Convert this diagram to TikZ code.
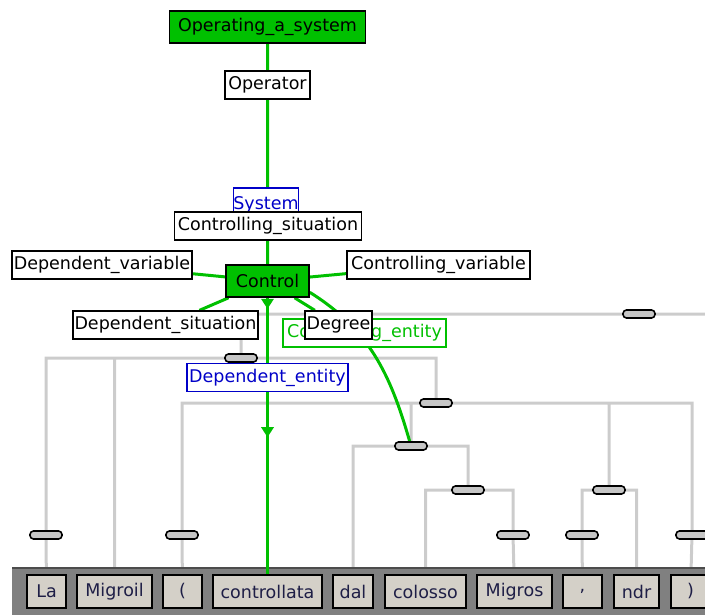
\documentclass[tikz,border=0pt]{standalone}
\usepackage{fontspec}
\setmainfont{DejaVu Sans}
\usetikzlibrary{arrows.meta,decorations.markings}
\pgfdeclarelayer{tree}
\pgfdeclarelayer{bar}
\pgfdeclarelayer{links}
\pgfsetlayers{tree,bar,links,main}
\definecolor{fegreen}{RGB}{0,192,0}
\definecolor{feblue}{RGB}{0,0,200}
\definecolor{treegray}{RGB}{204,204,204}
\definecolor{tokfill}{RGB}{212,208,200}
\definecolor{barfill}{RGB}{128,128,128}
\definecolor{toktext}{RGB}{30,30,70}

\begin{document}
\begin{tikzpicture}
[x=1pt, y=-1pt,
every node/.style={font=\fontsize{17.5}{20}\selectfont, inner sep=0pt},
framebox/.style={draw=black, line width=1.6pt, fill=fegreen, minimum height=32pt},
fe/.style={draw=black, line width=1.3pt, fill=white, minimum height=28pt},
core/.style={fe, draw=feblue, text=feblue},
noncore/.style={fe, draw=fegreen, text=fegreen},
phrase/.style={draw=black, line width=1.6pt, fill=gray!45, rounded corners=3.5pt, minimum width=32pt, minimum height=8pt},
token/.style={draw=black, line width=1.6pt, fill=tokfill, text=toktext, minimum height=33pt},
felink/.style={draw, color=fegreen, line width=3pt},
treelink/.style={draw=treegray, line width=3pt},
tipmark/.style={decoration={markings,
  mark=at position #1 with {\fill (0,6.5) -- (0,-6.5) -- (10,0) -- cycle;}}}
]
  \useasboundingbox (0,0) rectangle (705,615);

  % frames and frame elements
  \node[framebox, minimum width=196pt] (opsys)   at (267.5,27)  {Operating\_a\_system};
  \node[fe, minimum width=85pt]        (operator) at (267.5,85) {Operator};
  \node[core, minimum width=65pt, text height=18pt, text depth=2pt]
                                       (system)  at (266,202)   {System};
  \node[fe, minimum width=187pt]       (ctrlsit) at (268,226)   {Controlling\_situation};
  \node[fe, minimum width=180pt]       (depvar)  at (102,265)   {Dependent\_variable};
  \node[framebox, minimum width=83pt]  (control) at (267.5,281) {Control};
  \node[fe, minimum width=183pt]       (ctrlvar) at (438.5,265) {Controlling\_variable};
  \node[fe, minimum width=185pt]       (depsit)  at (165.5,325) {Dependent\_situation};
  \node[noncore, minimum width=163pt]  (ctrlent) at (364.5,333) {Controlling\_entity};
  \node[fe, minimum width=67pt]        (degree)  at (338.5,325) {Degree};
  \node[core, minimum width=161pt]     (depent)  at (267.5,377.5) {Dependent\_entity};

  % tokens
  \node[token, minimum width=39pt]  (tla)          at (46.5,591.5)  {La};
  \node[token, minimum width=75pt]  (tmigroil)     at (114.5,591.5) {Migroil};
  \node[token, minimum width=39pt]  (tlpar)        at (182.5,591.5) {(};
  \node[token, minimum width=109pt] (tcontrollata) at (267.5,591.5) {controllata};
  \node[token, minimum width=40pt]  (tdal)         at (353,591.5)   {dal};
  \node[token, minimum width=81pt]  (tcolosso)     at (425.5,591.5) {colosso};
  \node[token, minimum width=75pt]  (tmigros)      at (514.5,591.5) {Migros};
  \node[token, minimum width=39pt]  (tcomma)       at (582.5,591.5) {,};
  \node[token, minimum width=45pt]  (tndr)         at (636.5,591.5) {ndr};
  \node[token, minimum width=39pt]  (trpar)        at (690.5,591.5) {)};

  % phrase nodes
  \node[phrase] (p1)      at (639,314) {};
  \node[phrase] (p2)      at (241,358) {};
  \node[phrase] (p3)      at (436,403) {};
  \node[phrase] (p4)      at (411,446) {};
  \node[phrase] (p5)      at (609,490) {};
  \node[phrase] (p6)      at (468,490) {};
  \node[phrase] (pla)     at (46,535)  {};
  \node[phrase] (plpar)   at (182,535) {};
  \node[phrase] (pmigros) at (513,535) {};
  \node[phrase] (pcomma)  at (582,535) {};
  \node[phrase] (prpar)   at (692,535) {};
  \coordinate (offright) at (705,314);

  \begin{pgfonlayer}{tree}
  \path[treelink]
    (p1) -- (offright)
    (p1) -| (p2)
    (p2) -| (pla)      (pla) -- (tla)
    (p2) -| (tmigroil)
    (p2) -| (p3)
    (p3) -| (plpar)    (plpar) -- (tlpar)
    (p3) -| (p4)
    (p3) -| (p5)
    (p3) -| (prpar)    (prpar) -- (trpar)
    (p4) -| (tdal)
    (p4) -| (p6)
    (p6) -| (tcolosso)
    (p6) -| (pmigros)  (pmigros) -- (tmigros)
    (p5) -| (pcomma)   (pcomma) -- (tcomma)
    (p5) -| (tndr)
    ;
  \end{pgfonlayer}

  \begin{pgfonlayer}{bar}
  \fill[barfill] (12,567) rectangle (705,615);
  \draw[black!70, line width=1.5pt] (12,567.75) -- (705,567.75);
  \end{pgfonlayer}

  \begin{pgfonlayer}{links}
  \path[felink]
    (opsys) -- (control)
    (control) -- (depvar)
    (control) -- (ctrlvar)
    (control) -- (depsit)
    (control) -- (degree)
    (control.-15) to[out=-32, in=106] (p4)
    ;
  \draw[felink, postaction={decorate, tipmark=1pt}, postaction={decorate, tipmark=0.468}]
    (control) -- (tcontrollata);
  \end{pgfonlayer}
\end{tikzpicture}
\end{document}
